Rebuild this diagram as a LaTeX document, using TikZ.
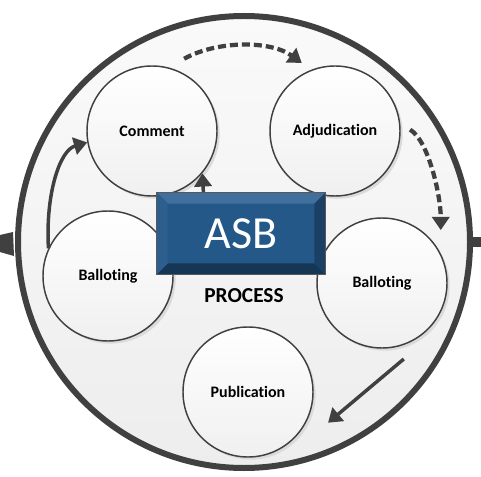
\documentclass[tikz,border=0pt]{standalone}
\usepackage{fontspec}
\setmainfont{Carlito}[Ligatures=NoCommon]
\usetikzlibrary{arrows.meta,calc,shadows}

\definecolor{ringgray}{RGB}{64,64,64}
\definecolor{asbface}{RGB}{36,88,136}
\definecolor{asbtop}{RGB}{66,112,156}
\definecolor{asbbottom}{RGB}{22,54,86}
\definecolor{asbleft}{RGB}{44,94,142}
\definecolor{asbright}{RGB}{26,64,102}

\tikzset{
  stage/.style={circle, draw=ringgray, line width=1.1pt, minimum size=97.5pt, inner sep=0pt,
    top color=white, bottom color=black!6,
    drop shadow={shadow xshift=2pt, shadow yshift=-2pt, fill=black!14, opacity=1},
    font=\fontsize{12}{14}\selectfont\bfseries},
  flow/.style={draw=ringgray, line width=2.6pt, -{Triangle[width=13pt,length=10pt]}},
  dashflow/.style={flow, line width=3.2pt, dash pattern=on 6pt off 3pt},
}

\begin{document}
\begin{tikzpicture}[x=0.75pt,y=0.75pt,yscale=-1,xscale=1]
\useasboundingbox (0,0) rectangle (481,477);

%Shape: Outer ring
\node[circle, draw=ringgray, line width=4.5pt, minimum size=339pt, inner sep=0pt,
  top color=white!98!black, bottom color=black!7] (ring) at (244,242) {};
\fill[ringgray] (0,235) -- (13,232) -- (14,256) -- (0,252) -- cycle;
\fill[ringgray] (472,237) rectangle (481,247);

%Shape: Stage circles
\node[stage] (comment) at (152,131) {Comment};
\node[stage] (adjud) at (335,131) {Adjudication};
\node[stage] (ballotL) at (108,276) {Balloting};
\node[stage] (ballotR) at (382,283) {Balloting};
\node[stage] (publ) at (248,392) {Publication};

%Curve Lines
\draw[dashflow] ($(comment.66)!-10pt!(comment)$) .. controls +(32,-18) and +(-32,-23) .. ($(adjud.116)!-7.5pt!(adjud)$);
\draw[dashflow] ($(adjud.1)!-7pt!(adjud)$) .. controls +(18,10) and +(0,-35) .. ($(ballotR.42)!-10pt!(ballotR)$);
%Straight Lines
\draw[flow] ($(ballotR.-74)!-10pt!(ballotR)$) -- ($(publ.-21)!-15pt!(publ)$);
\draw[flow] (ballotL.155) .. controls +(-3,-53) and +(-28,8) .. (comment.190);

% Text Node
\node[font=\fontsize{16}{18}\selectfont\bfseries] (proc) at (244,296) {PROCESS};

%Shape: ASB box
\node[rectangle, minimum width=126pt, minimum height=60.75pt, inner sep=0pt, fill=asbface] (asb) at (241,233.5) {};
\draw[flow] ([xshift=35pt]asb.north west) -- (comment.-40);
\fill[asbtop] (asb.north west) -- (asb.north east) -- ($(asb.north east)+(-11,11)$) -- ($(asb.north west)+(11,11)$) -- cycle;
\fill[asbbottom] (asb.south west) -- (asb.south east) -- ($(asb.south east)+(-11,-11)$) -- ($(asb.south west)+(11,-11)$) -- cycle;
\fill[asbleft] (asb.north west) -- ($(asb.north west)+(11,11)$) -- ($(asb.south west)+(11,-11)$) -- (asb.south west) -- cycle;
\fill[asbright] (asb.north east) -- ($(asb.north east)+(-11,11)$) -- ($(asb.south east)+(-11,-11)$) -- (asb.south east) -- cycle;
\draw[black!65, line width=0.6pt] (asb.north west) rectangle (asb.south east);
\node[text=white, font=\fontsize{34.5}{36}\selectfont] (asbtext) at (asb) {ASB};

\end{tikzpicture}
\end{document}
